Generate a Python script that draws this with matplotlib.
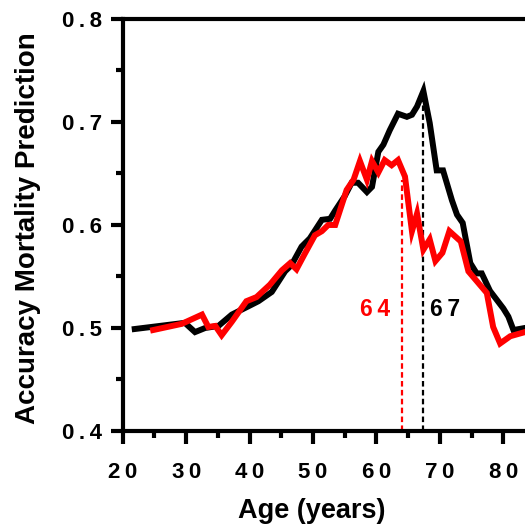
import matplotlib.pyplot as plt
from matplotlib.ticker import MultipleLocator, FixedLocator, FixedFormatter

plt.rcParams['font.family'] = ['Liberation Sans', 'DejaVu Sans']
plt.rcParams['font.weight'] = 'bold'

# edades y precision (linea negra)
edad_negra = [21.9, 29.8, 31.4, 33.0, 35.1, 37.2, 39.8, 41.4, 43.5, 45.6, 46.6,
              48.2, 49.5, 51.4, 52.7, 53.5, 55.0, 56.1, 57.1, 58.5, 59.3, 60.3,
              61.1, 62.1, 63.4, 64.8, 65.6, 66.4, 67.4, 68.4, 69.5, 70.5, 71.9,
              72.7, 73.6, 74.8, 75.8, 76.6, 77.9, 80.0, 80.8, 81.6, 83.4, 85.0]
prec_negra = [0.499, 0.505, 0.496, 0.500, 0.502, 0.513, 0.521, 0.526, 0.535,
              0.555, 0.561, 0.579, 0.587, 0.605, 0.606, 0.614, 0.628, 0.641,
              0.641, 0.632, 0.637, 0.671, 0.678, 0.692, 0.708, 0.705, 0.707,
              0.715, 0.730, 0.699, 0.653, 0.653, 0.624, 0.610, 0.602, 0.563,
              0.553, 0.553, 0.536, 0.519, 0.511, 0.498, 0.500, 0.501]

# edades y precision (linea roja)
edad_roja = [24.8, 29.3, 32.5, 33.5, 34.6, 35.6, 37.2, 39.5, 41.1, 43.2, 45.1,
             46.4, 47.4, 48.7, 50.3, 51.4, 52.4, 53.5, 55.3, 56.4, 57.4, 58.5,
             59.3, 60.3, 61.3, 62.4, 63.4, 64.5, 65.6, 66.4, 67.4, 68.4, 69.3,
             70.4, 71.5, 73.3, 74.5, 77.4, 78.4, 79.5, 81.1, 83.4, 85.0]
prec_roja = [0.498, 0.504, 0.513, 0.501, 0.502, 0.493, 0.506, 0.526, 0.530,
             0.542, 0.556, 0.563, 0.557, 0.572, 0.590, 0.594, 0.600, 0.600,
             0.634, 0.644, 0.662, 0.644, 0.662, 0.651, 0.663, 0.658, 0.663,
             0.647, 0.594, 0.611, 0.576, 0.586, 0.565, 0.573, 0.594, 0.584,
             0.555, 0.534, 0.501, 0.485, 0.492, 0.496, 0.499]

# umbrales
umbral_rojo = 64
umbral_negro = 67.4
tope_rojo = 0.644
tope_negro = 0.730

xticks = [20, 30, 40, 50, 60, 70, 80]
xtick_labels = ["20", "30", "40", "50", "60", "70", "80"]
yticks = [0.4, 0.5, 0.6, 0.7, 0.8]
ytick_labels = ["0.4", "0.5", "0.6", "0.7", "0.8"]


def espaciar(t):
    return "\u2009".join(list(t))


fig = plt.figure(figsize=(5.25, 5.24), dpi=100)
ax = fig.add_axes([0.2337, 0.1775, 0.8458, 0.7863])

ax.plot(edad_negra, prec_negra, color="black", lw=4.3, solid_joinstyle="miter", zorder=3)
ax.plot(edad_roja, prec_roja, color="red", lw=4.3, solid_joinstyle="miter", zorder=4)

ax.plot([umbral_rojo, umbral_rojo], [0.4, tope_rojo], color="red", lw=1.6,
        linestyle=(0, (2.5, 1.5)), zorder=2)
ax.plot([umbral_negro, umbral_negro], [0.4, tope_negro], color="black", lw=1.6,
        linestyle=(0, (2.5, 1.5)), zorder=2)

ax.text(62.1, 0.5175, espaciar("64"), color="red", fontsize=16.5, fontweight="bold",
        ha="right", va="center")
ax.text(68.5, 0.5175, espaciar("67"), color="black", fontsize=16.5, fontweight="bold",
        ha="left", va="center")

ax.set_xlim(20, 90)
ax.set_ylim(0.4, 0.8)

ax.xaxis.set_major_locator(FixedLocator(xticks))
ax.xaxis.set_major_formatter(FixedFormatter([espaciar(t) for t in xtick_labels]))
ax.xaxis.set_minor_locator(MultipleLocator(5))
ax.yaxis.set_major_locator(FixedLocator(yticks))
ax.yaxis.set_major_formatter(FixedFormatter([espaciar(t) for t in ytick_labels]))
ax.yaxis.set_minor_locator(MultipleLocator(0.05))

for s in ["left", "bottom", "top"]:
    ax.spines[s].set_linewidth(3)
ax.spines["right"].set_visible(False)

ax.tick_params(axis="both", which="major", length=9, width=3, labelsize=16)
ax.tick_params(axis="both", which="minor", length=5, width=3)
ax.tick_params(axis="x", which="major", pad=13)
ax.tick_params(axis="y", which="major", pad=6)

fig.text(0.594, 0.025, "Age (years)", fontsize=19.5, fontweight="bold",
         ha="center", va="center")
fig.text(0.053, 0.565, "Accuracy Mortality Prediction", fontsize=20,
         fontweight="bold", rotation=90, ha="center", va="center")

fig.savefig("out.png", dpi=100)
